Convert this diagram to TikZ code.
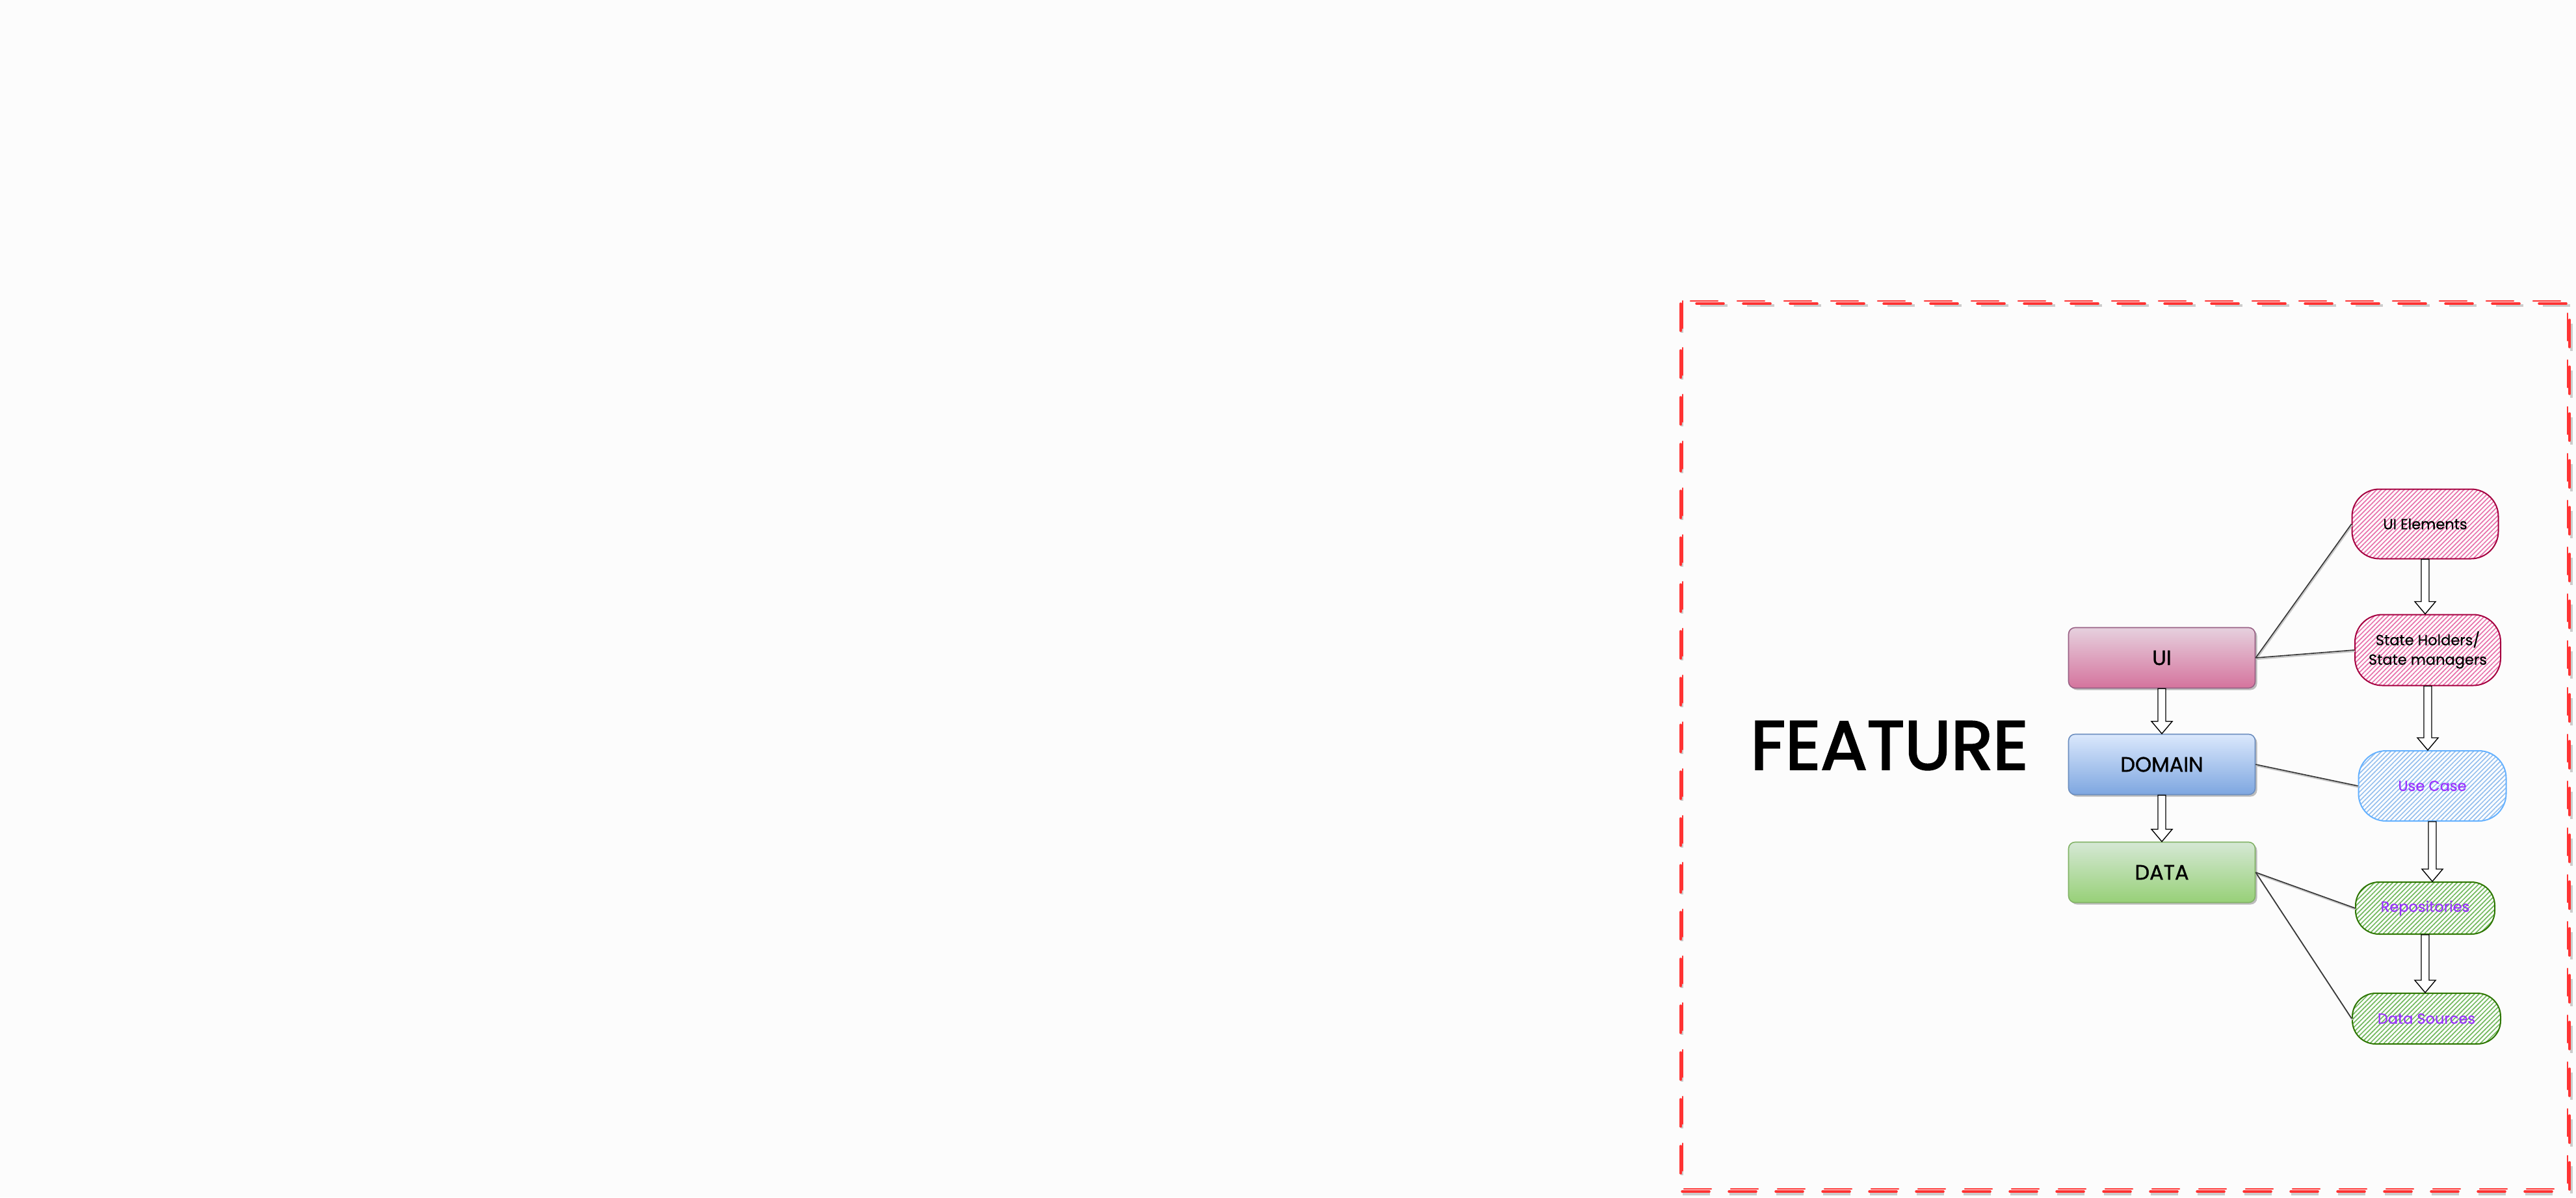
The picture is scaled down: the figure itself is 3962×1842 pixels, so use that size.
\documentclass[tikz,border=0pt]{standalone}
\usepackage{fontspec}
\setmainfont{Poppins}
\newfontfamily\heavyfont[FakeBold=2.5]{Poppins}
\newfontfamily\midfont[FakeBold=1.2]{Poppins}
\newfontfamily\lightbold[FakeBold=0.6]{Poppins}
\usetikzlibrary{calc,patterns.meta,shadows}
\definecolor{bg}{RGB}{252,252,252}
\definecolor{framered}{RGB}{255,51,51}
\definecolor{uitop}{HTML}{E6D0DE}\definecolor{uibot}{HTML}{D5739D}\definecolor{uistroke}{HTML}{996185}
\definecolor{domtop}{HTML}{DAE8FC}\definecolor{dombot}{HTML}{7EA6E0}\definecolor{domstroke}{HTML}{6C8EBF}
\definecolor{dattop}{HTML}{D5E8D4}\definecolor{datbot}{HTML}{97D077}\definecolor{datstroke}{HTML}{82B366}
\definecolor{pinkstroke}{RGB}{165,0,64}\definecolor{pinkhatch}{RGB}{232,115,172}
\definecolor{bluestroke}{RGB}{102,178,255}\definecolor{bluehatch}{RGB}{150,192,238}
\definecolor{greenstroke}{RGB}{45,118,0}\definecolor{greenhatch}{RGB}{115,185,95}
\definecolor{purpletext}{RGB}{153,51,255}
\newcommand\blockarrow[2]{%
  \draw[barrow] let \p1=(#1.south), \p2=(#2.north) in
    (\x1-6pt,\y1) -- (\x1-6pt,\y2+19pt) -- (\x1-16pt,\y2+19pt) -- (\x1,\y2)
    -- (\x1+16pt,\y2+19pt) -- (\x1+6pt,\y2+19pt) -- (\x1+6pt,\y1) -- cycle;}
\begin{document}
\begin{tikzpicture}[x=1pt,y=-1pt,
  layer/.style={draw, line width=1.6pt, rounded corners=10pt, minimum width=287pt, minimum height=93pt,
    inner sep=0pt, font=\midfont\fontsize{32}{36}\selectfont,
    drop shadow={shadow xshift=3pt, shadow yshift=-3pt, opacity=.25, fill=black}},
  pill/.style={draw, line width=2pt, rounded corners=42pt, inner sep=0pt, align=center,
    font=\lightbold\fontsize{22.5}{30}\selectfont},
  pinkpill/.style={pill, draw=pinkstroke, preaction={fill=white},
    pattern={Lines[angle=45,distance=5pt,line width=1.7pt]}, pattern color=pinkhatch},
  bluepill/.style={pill, draw=bluestroke, preaction={fill=white},
    pattern={Lines[angle=45,distance=5pt,line width=1.7pt]}, pattern color=bluehatch, text=purpletext},
  greenpill/.style={pill, rounded corners=36pt, draw=greenstroke, preaction={fill=white},
    pattern={Lines[angle=45,distance=5pt,line width=1.7pt]}, pattern color=greenhatch, text=purpletext},
  barrow/.style={draw=black, fill=white, line width=1.4pt, line join=miter},
  conn/.style={draw=black!80, line width=1.6pt,
    preaction={draw=gray!45, line width=2.2pt, transform canvas={xshift=1pt,yshift=-2pt}}},
  framestroke/.style={draw=framered, line width=3.5pt, dash pattern=on 42pt off 30pt, line cap=round}
]
\fill[bg] (0,0) rectangle (3962,1842);
\useasboundingbox (0,0) rectangle (3962,1842);

% frame
\draw[draw=gray!40, line width=3.5pt, dash pattern=on 42pt off 30pt] (2587,470) rectangle (3955,1837);
\draw[framestroke] (2585,467) rectangle (3952,1833);
\draw[framestroke, line width=2.5pt] (2588,463) rectangle (3949,1829);

% title
\node (feature) at (2906,1147) {\heavyfont\fontsize{106}{116}\selectfont FEATURE};

% layers
\node[layer, draw=uistroke, top color=uitop, bottom color=uibot] (ui) at (3325,1012) {UI};
\node[layer, draw=domstroke, top color=domtop, bottom color=dombot] (domain) at (3325,1176) {DOMAIN};
\node[layer, draw=datstroke, top color=dattop, bottom color=datbot] (data) at (3325,1342) {DATA};

% detail pills
\node[pinkpill, minimum width=225pt, minimum height=107pt] (uiel) at (3730,806) {UI Elements};
\node[pinkpill, minimum width=224pt, minimum height=109pt] (state) at (3734,1000) {State Holders/\\State managers};
\node[bluepill, minimum width=227pt, minimum height=108pt] (usecase) at (3741,1209) {Use Case};
\node[greenpill, minimum width=214pt, minimum height=80pt] (repos) at (3730,1397) {Repositories};
\node[greenpill, minimum width=228pt, minimum height=78pt] (dsrc) at (3732,1567) {Data Sources};

% connectors
\draw[conn] (ui.east) -- (uiel.west);
\draw[conn] (ui.east) -- (state.west);
\draw[conn] (domain.east) -- (usecase.west);
\draw[conn] (data.east) -- (repos.west);
\draw[conn] (data.east) -- (dsrc.west);

% block arrows
\blockarrow{ui}{domain}
\blockarrow{domain}{data}
\blockarrow{uiel}{state}
\blockarrow{state}{usecase}
\blockarrow{usecase}{repos}
\blockarrow{repos}{dsrc}
\end{tikzpicture}
\end{document}
